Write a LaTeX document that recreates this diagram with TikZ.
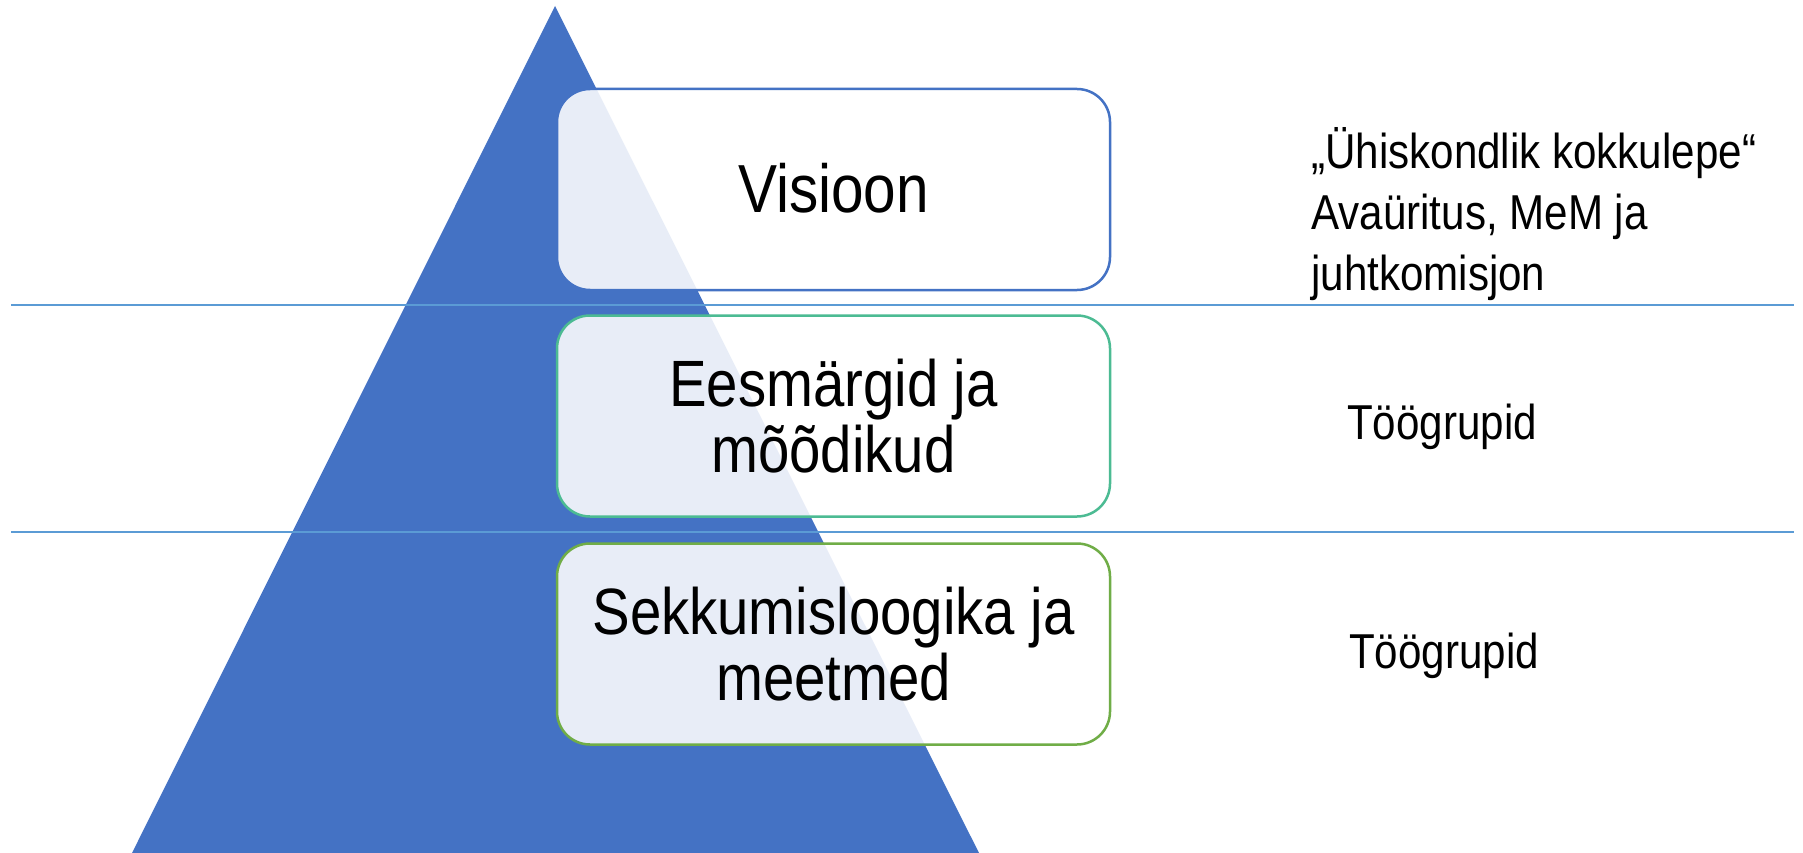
\documentclass[tikz,border=0pt]{standalone}
\usepackage{fontspec}
\setmainfont{Liberation Sans}[FakeStretch=0.86]
\definecolor{triblue}{HTML}{4472C4}
\definecolor{sepblue}{HTML}{5B9BD5}
\definecolor{boxblue}{HTML}{4472C4}
\definecolor{boxteal}{HTML}{4CBB93}
\definecolor{boxgreen}{HTML}{70AD47}
\tikzset{
  levelbox/.style={rectangle, rounded corners=33pt, line width=2.5pt, fill=white, fill opacity=0.88, text opacity=1,
    minimum width=553pt, minimum height=201pt, align=center, inner sep=0pt, text=black},
  bigtext/.style={font=\fontsize{68}{74}\selectfont},
  midtext/.style={font=\fontsize{65.5}{66}\selectfont},
  sidetext/.style={font=\fontsize{49}{61}\selectfont, inner sep=0pt, text=black},
  sepline/.style={draw=sepblue, line width=1.5pt}
}
\begin{document}
\begin{tikzpicture}[x=1pt,y=-1pt]
\useasboundingbox[fill=white] (0,0) rectangle (1803,853);
% pyramid
\fill[triblue] (555,6) -- (979,853) -- (132,853) -- cycle;
% separator lines
\coordinate (l1a) at (11,305); \coordinate (l1b) at (1794,305);
\coordinate (l2a) at (11,532); \coordinate (l2b) at (1794,532);
\draw[sepline] (l1a) -- (l1b);
\draw[sepline] (l2a) -- (l2b);
% boxes
\node[levelbox, bigtext, draw=boxblue] (b1) at (833.5,189.5) {\raisebox{3pt}{Visioon}};
\node[levelbox, midtext, draw=boxteal] (b2) at (833.5,416) {Eesmärgid ja\\mõõdikud};
\node[levelbox, midtext, draw=boxgreen] (b3) at (833.5,644) {Sekkumisloogika ja\\meetmed};
% side texts
\node[sidetext, align=left, anchor=west] (s1) at (1311,214) {„Ühiskondlik kokkulepe“\\Avaüritus, MeM ja\\juhtkomisjon};
\node[sidetext, anchor=base] (s2) at (1442,439) {Töögrupid};
\node[sidetext, anchor=base] (s3) at (1444,668) {Töögrupid};
\end{tikzpicture}
\end{document}
